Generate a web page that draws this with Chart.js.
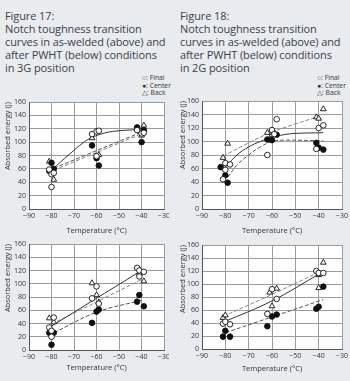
<!DOCTYPE html>
<html>
<head>
<meta charset="utf-8">
<script src="https://cdn.jsdelivr.net/npm/chart.js@4"></script>
<style>
  html, body { margin: 0; padding: 0; }
  body { width: 350px; height: 381px; background: #e9ecef; position: relative; overflow: hidden;
         font-family: "Open Sans", "Noto Sans", sans-serif; color: #3a4148; }
  .title { position: absolute; top: 9px; font-size: 11px; line-height: 13px; letter-spacing: -0.1px; white-space: nowrap; }
  .key { position: absolute; font-size: 6.8px; line-height: 7.5px; color: #333; white-space: nowrap; }
  canvas { position: absolute; }
</style>
</head>
<body>
<div class="title" style="left:5px">Figure 17:<br>Notch toughness transition<br>curves in as-welded (above) and<br>after PWHT (below) conditions<br>in 3G position</div>
<div class="title" style="left:180px">Figure 18:<br>Notch toughness transition<br>curves in as-welded (above) and<br>after PWHT (below) conditions<br>in 2G position</div>
<div class="key" style="left:142px;top:74px">○: Final<br>●: Center<br>△: Back</div>
<div class="key" style="left:317px;top:74px">○: Final<br>●: Center<br>△: Back</div>

<canvas id="c17a" width="169" height="140" style="left:0px;top:95px"></canvas>
<canvas id="c18a" width="175" height="141" style="left:175px;top:94px"></canvas>
<canvas id="c17b" width="169" height="135" style="left:0px;top:237px"></canvas>
<canvas id="c18b" width="175" height="135" style="left:175px;top:238px"></canvas>

<script>
const xTicks = [-90, -80, -70, -60, -50, -40, -30];
const yTicks = [0, 20, 40, 60, 80, 100, 120, 140, 160];

// Figure 17, as-welded
const f17awFinal  = [[-81,59],[-80,52],[-79,54],[-80,33],[-62,112],[-60,116],[-59,117],[-60,79],[-42,118],[-40,113],[-39,114]];
const f17awCenter = [[-80,69],[-79,60],[-81,57],[-62,95],[-60,76],[-59,65],[-42,122],[-40,100],[-39,118]];
const f17awBack   = [[-81,71],[-79,44],[-80,55],[-62,106],[-59,81],[-41,118],[-39,125],[-40,110]];
const f17awFitFinal  = [[-80,58],[-72,82],[-66,99],[-62,107],[-56,114],[-50,117],[-40,119]];
const f17awFitCenter = [[-79,61],[-40,115]];
const f17awFitBack   = [[-79,58],[-41,111]];

// Figure 18, as-welded
const f18awFinal  = [[-81,44],[-80,68],[-80,58],[-78,66],[-62,80],[-60,117],[-59,111],[-58,133],[-41,89],[-40,120],[-38,124]];
const f18awCenter = [[-82,62],[-80,50],[-79,39],[-62,103],[-60,102],[-58,110],[-41,98],[-40,91],[-38,88]];
const f18awBack   = [[-81,76],[-79,97],[-62,113],[-60,110],[-59,113],[-41,136],[-40,134],[-38,148]];
const f18awFitFinal  = [[-80,62],[-75,80],[-70,92],[-65,100],[-60,106],[-55,110],[-50,112],[-38,113]];
const f18awFitCenter = [[-79,47],[-75,65],[-70,80],[-65,92],[-60,100],[-55,102],[-38,101]];
const f18awFitBack   = [[-81,78],[-70,98],[-60,114],[-50,126],[-40,137]];

// Figure 17, after PWHT
const f17hFinal  = [[-81,34],[-80,20],[-80,29],[-79,49],[-62,78],[-60,96],[-59,70],[-42,124],[-41,120],[-39,118],[-41,111]];
const f17hCenter = [[-81,26],[-80,8],[-79,26],[-62,41],[-60,58],[-59,61],[-42,73],[-41,83],[-39,66]];
const f17hBack   = [[-81,48],[-79,42],[-62,101],[-60,83],[-59,72],[-41,115],[-39,104]];
const f17hFitFinal  = [[-81,34],[-41,118]];
const f17hFitCenter = [[-79,26],[-60,57],[-40,75]];
const f17hFitBack   = [[-80,39],[-39,108]];

// Figure 18, after PWHT
const f18hFinal  = [[-81,39],[-80,42],[-78,38],[-62,54],[-60,92],[-58,77],[-41,120],[-40,117],[-38,117]];
const f18hCenter = [[-81,19],[-80,28],[-78,19],[-62,35],[-60,50],[-58,53],[-41,62],[-40,65],[-38,96]];
const f18hBack   = [[-81,48],[-80,52],[-61,87],[-60,66],[-58,93],[-40,94],[-40,114],[-38,133]];
const f18hFitFinal  = [[-81,41],[-60,74],[-40,115]];
const f18hFitCenter = [[-80,25],[-38,76]];
const f18hFitBack   = [[-81,50],[-60,84],[-40,118]];

const pts = arr => arr.map(p => ({ x: p[0], y: p[1] }));
const minus = v => String(v).replace('-', '\u2212');

// white plot background
const whiteArea = {
  id: 'whiteArea',
  beforeDraw(chart) {
    const a = chart.chartArea, ctx = chart.ctx;
    ctx.save();
    ctx.fillStyle = '#fff';
    ctx.fillRect(a.left, a.top, a.right - a.left, a.bottom - a.top);
    ctx.restore();
  }
};

function plot(id, series, fits, box) {
  const marks = [
    { data: pts(series[0]), pointStyle: 'circle', pointRadius: 2.8, backgroundColor: '#fff' },
    { data: pts(series[1]), pointStyle: 'circle', pointRadius: 2.8, backgroundColor: '#111' },
    { data: pts(series[2]), pointStyle: 'triangle', pointRadius: 3.3, backgroundColor: '#fff' }
  ].map(d => Object.assign(d, { borderColor: '#111', borderWidth: 0.9, showLine: false, order: 1 }));

  const lines = [
    { data: pts(fits[0]), borderColor: '#333', borderDash: [] },
    { data: pts(fits[1]), borderColor: '#555', borderDash: [4, 2] },
    { data: pts(fits[2]), borderColor: '#888', borderDash: [4, 2] }
  ].map(d => Object.assign(d, { showLine: true, pointRadius: 0, borderWidth: 1, tension: 0.4, order: 2 }));

  return new Chart(document.getElementById(id), {
    type: 'scatter',
    data: { datasets: lines.concat(marks) },
    plugins: [whiteArea],
    options: {
      responsive: false,
      animation: false,
      layout: { padding: { top: 7, right: box.pr, left: 0, bottom: 0 } },
      plugins: { legend: { display: false }, tooltip: { enabled: false } },
      scales: {
        x: {
          type: 'linear', min: -90, max: -30,
          afterBuildTicks: s => { s.ticks = xTicks.map(v => ({ value: v })); },
          afterFit: s => { s.height = box.xh; s.paddingLeft = 0; s.paddingRight = 0; },
          grid: { color: '#9c9c9c', lineWidth: 1, drawTicks: false },
          border: { color: '#555' },
          ticks: { font: { size: 7 }, color: '#333', padding: 3, callback: minus },
          title: { display: true, text: 'Temperature (°C)', font: { size: 7.5 }, color: '#333', padding: 0 }
        },
        y: {
          min: 0, max: 160,
          afterBuildTicks: s => { s.ticks = yTicks.map(v => ({ value: v })); },
          afterFit: s => { s.width = box.yw; s.paddingTop = 0; s.paddingBottom = 0; },
          grid: { color: '#9c9c9c', lineWidth: 1, drawTicks: false },
          border: { color: '#555' },
          ticks: { font: { size: 7 }, color: '#333', padding: 3 },
          title: { display: true, text: 'Absorbed energy (J)', align: 'end', font: { size: 7.5 }, color: '#333', padding: 3 }
        }
      }
    }
  });
}

Chart.defaults.font.family = '"Open Sans", "Noto Sans", sans-serif';

plot('c17a', [f17awFinal, f17awCenter, f17awBack], [f17awFitFinal, f17awFitCenter, f17awFitBack], { yw: 29, xh: 26, pr: 2 });
plot('c18a', [f18awFinal, f18awCenter, f18awBack], [f18awFitFinal, f18awFitCenter, f18awFitBack], { yw: 27, xh: 26, pr: 8 });
plot('c17b', [f17hFinal, f17hCenter, f17hBack], [f17hFitFinal, f17hFitCenter, f17hFitBack], { yw: 29, xh: 22, pr: 2 });
plot('c18b', [f18hFinal, f18hCenter, f18hBack], [f18hFitFinal, f18hFitCenter, f18hFitBack], { yw: 27, xh: 24, pr: 8 });
</script>
</body>
</html>
